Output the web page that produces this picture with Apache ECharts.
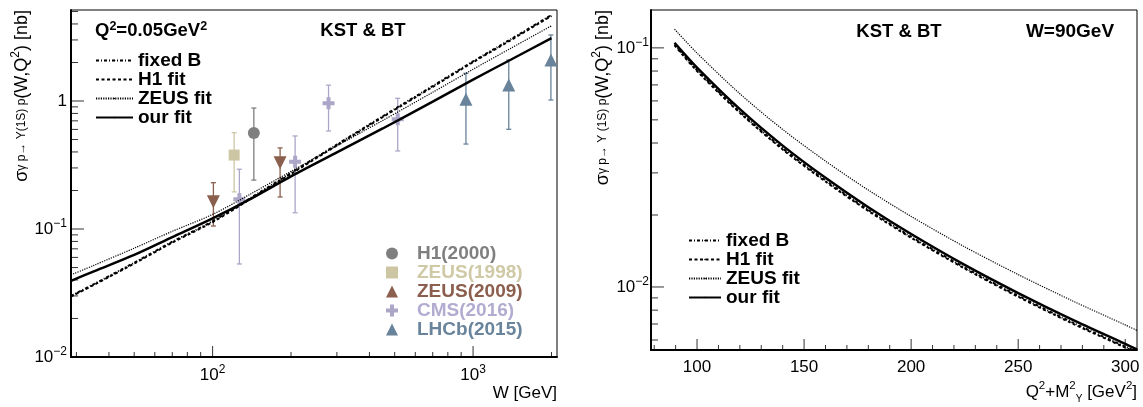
<!DOCTYPE html>
<html><head><meta charset="utf-8">
<script src="https://cdn.jsdelivr.net/npm/echarts@6/dist/echarts.min.js"></script>
<style>html,body{margin:0;padding:0;background:#fff}#c{width:1143px;height:407px}</style>
</head><body><div id="c"></div>
<script>
// ---------- data ----------
// Left panel: W [GeV] vs sigma [nb], Q^2 = 0.05 GeV^2
const leftW        = [28.6, 35, 50, 70, 100, 140, 200, 300, 450, 700, 1000, 1400, 2000];
const leftFixedB   = [0.030, 0.0371, 0.0545, 0.0795, 0.115, 0.175, 0.274, 0.457, 0.76, 1.31, 2.04, 3.05, 4.7];
const leftH1Fit    = [0.0297, 0.0366, 0.0537, 0.0783, 0.1133, 0.172, 0.270, 0.450, 0.749, 1.29, 2.01, 3.0, 4.63];
const leftZeusFit  = [0.0438, 0.052, 0.0708, 0.0959, 0.13, 0.188, 0.282, 0.446, 0.705, 1.17, 1.77, 2.59, 3.87];
const leftOurFit   = [0.0393, 0.0467, 0.0627, 0.0863, 0.121, 0.172, 0.258, 0.397, 0.61, 0.99, 1.47, 2.11, 3.1];

// measurements: [W, sigma, lower end, upper end]
const h1_2000   = [[144, 0.562, 0.241, 0.881]];
const zeus_1998 = [[121, 0.378, 0.195, 0.565]];
const zeus_2009 = [[100.7, 0.163, 0.1055, 0.230], [181.6, 0.33, 0.178, 0.43]];
const cms_2016  = [[126.7, 0.171, 0.0533, 0.293], [207.4, 0.336, 0.134, 0.533], [278.7, 0.959, 0.583, 1.33], [513.7, 0.72, 0.407, 1.05]];
const lhcb_2015 = [[939, 1.03, 0.461, 1.645], [1371, 1.334, 0.601, 2.09], [1990, 2.09, 1.018, 3.28]];

// Right panel: Q^2+M^2 [GeV^2] vs sigma [nb], W = 90 GeV
const rightQ       = [89.5, 100, 120, 140, 160, 180, 200, 225, 250, 275, 300, 305.5];
const rightFixedB  = [0.1035, 0.0808, 0.0540, 0.0380, 0.0279, 0.0210, 0.01623, 0.01206, 0.00919, 0.00713, 0.00563, 0.00534];
const rightH1Fit   = [0.1025, 0.0800, 0.0535, 0.0376, 0.0276, 0.0208, 0.01607, 0.01194, 0.00910, 0.00706, 0.00558, 0.00529];
const rightZeusFit = [0.1197, 0.0951, 0.0643, 0.0456, 0.0336, 0.02543, 0.01973, 0.01472, 0.01127, 0.00878, 0.00694, 0.00658];
const rightOurFit  = [0.105, 0.0827, 0.0554, 0.0390, 0.0286, 0.02155, 0.01665, 0.01237, 0.00943, 0.00732, 0.00578, 0.00548];

// axis ranges and tick values
const leftXRange  = [28.6, 2100];
const leftYRange  = [0.01, 5.14];
const rightXRange = [78.5, 305.5];
const rightYRange = [0.00545, 0.144];
const leftXMajor  = [100, 1000];
const leftXMinor  = [30, 40, 50, 60, 70, 80, 90, 200, 300, 400, 500, 600, 700, 800, 900, 2000];
const leftYMajor  = [0.1, 1];
const leftYMinor  = [0.02, 0.03, 0.04, 0.05, 0.06, 0.07, 0.08, 0.09, 0.2, 0.3, 0.4, 0.5, 0.6, 0.7, 0.8, 0.9, 2, 3, 4, 5];
const rightXMajor = [100, 150, 200, 250, 300];
const rightXMinor = [80, 90, 110, 120, 130, 140, 160, 170, 180, 190, 210, 220, 230, 240, 260, 270, 280, 290];
const rightYMajor = [0.01, 0.1];
const rightYMinor = [0.006, 0.007, 0.008, 0.009, 0.02, 0.03, 0.04, 0.05, 0.06, 0.07, 0.08, 0.09];

// ---------- styling ----------
const F = '"Liberation Sans", Arial, Helvetica, sans-serif';
const COL = {h1: '#7f7f7f', z98: '#cdc6a5', z09: '#8a5f4d', cms: '#aca6c8', lhcb: '#68839a'};
const TXT = {h1: '#7f7f7f', z98: '#cfc9a6', z09: '#8b5e4e', cms: '#b1acd0', lhcb: '#69849b'};

const labelRich = {
  b: {fontFamily: F, fontSize: 17, color: '#000', lineHeight: 22},
  s: {fontFamily: F, fontSize: 12, color: '#000', lineHeight: 12, verticalAlign: 'top'}
};
function powLabel(v) {
  const e = Math.log10(v), r = Math.round(e);
  if (Math.abs(e - r) > 1e-6) return '';
  if (r === 0) return '{b|1}';
  return '{b|10}{s|' + (r < 0 ? '\u2212' + (-r) : r) + '}';
}
function zip(xs, ys) { return xs.map((x, i) => [x, ys[i]]); }

function lineSeries(gi, name, xs, ys, type, width) {
  return {
    type: 'line', name: name, xAxisIndex: gi, yAxisIndex: gi, data: zip(xs, ys),
    symbol: 'none', smooth: 0.3, z: 4, silent: true,
    lineStyle: {color: '#000', width: width, type: type}, itemStyle: {color: '#000'}
  };
}
function tickSeries(gi, vals, axis, fixed, len) {
  return {
    type: 'scatter', xAxisIndex: gi, yAxisIndex: gi, silent: true, clip: false, z: 6,
    symbol: 'rect',
    symbolSize: axis === 'x' ? [1, len] : [len, 1],
    symbolOffset: axis === 'x' ? [0, -len / 2] : [len / 2, 0],
    itemStyle: {color: '#000'},
    data: vals.map(v => axis === 'x' ? [v, fixed] : [fixed, v])
  };
}
function errSeries(gi, pts, color) {
  return {
    type: 'custom', xAxisIndex: gi, yAxisIndex: gi, silent: true, z: 3,
    data: pts, encode: {x: 0, y: [1, 2, 3]},
    renderItem: function (params, api) {
      const x = api.value(0), lo = api.value(2), hi = api.value(3);
      const a = api.coord([x, hi]), b = api.coord([x, lo]);
      const s = {stroke: color, lineWidth: 1.3};
      return {type: 'group', children: [
        {type: 'line', shape: {x1: a[0], y1: a[1], x2: b[0], y2: b[1]}, style: s},
        {type: 'line', shape: {x1: a[0] - 2.5, y1: a[1], x2: a[0] + 2.5, y2: a[1]}, style: s},
        {type: 'line', shape: {x1: b[0] - 2.5, y1: b[1], x2: b[0] + 2.5, y2: b[1]}, style: s}
      ]};
    }
  };
}
function markSeries(name, pts, color, symbol, size, rot) {
  return {
    type: 'scatter', name: name, xAxisIndex: 0, yAxisIndex: 0, z: 3, silent: true,
    symbol: symbol, symbolSize: size, symbolRotate: rot || 0,
    itemStyle: {color: color, opacity: 1},
    data: pts.map(p => [p[0], p[1]])
  };
}
const CROSS = 'path://M4,0H8V4H12V8H8V12H4V8H0V4H4Z';

const axisLineStyle = {show: true, onZero: false, lineStyle: {color: '#000', width: 2}};
const lineLegendText = {fontFamily: F, fontSize: 19, fontWeight: 'bold', color: '#000'};

const option = {
  animation: false,
  backgroundColor: '#fff',
  grid: [
    {left: 71, top: 10, width: 486, height: 347, show: true, borderColor: '#000', borderWidth: 1, backgroundColor: 'transparent'},
    {left: 651, top: 10, width: 486, height: 340, show: true, borderColor: '#000', borderWidth: 1, backgroundColor: 'transparent'}
  ],
  xAxis: [
    {gridIndex: 0, type: 'log', min: leftXRange[0], max: leftXRange[1], axisLine: axisLineStyle,
     axisTick: {show: false}, splitLine: {show: false},
     axisLabel: {margin: 7, formatter: powLabel, rich: labelRich, showMinLabel: false, showMaxLabel: false}},
    {gridIndex: 1, type: 'value', min: rightXRange[0], max: rightXRange[1], axisLine: axisLineStyle,
     axisTick: {show: false}, splitLine: {show: false},
     axisLabel: {margin: 9, fontFamily: F, fontSize: 17, color: '#000',
       formatter: v => (Math.abs(v % 50) < 1e-9 ? String(v) : ''), showMinLabel: false, showMaxLabel: false}}
  ],
  yAxis: [
    {gridIndex: 0, type: 'log', min: leftYRange[0], max: leftYRange[1], axisLine: axisLineStyle,
     axisTick: {show: false}, splitLine: {show: false},
     axisLabel: {margin: 4, formatter: powLabel, rich: labelRich, showMaxLabel: false}},
    {gridIndex: 1, type: 'log', min: rightYRange[0], max: rightYRange[1], axisLine: axisLineStyle,
     axisTick: {show: false}, splitLine: {show: false},
     axisLabel: {margin: 2, formatter: powLabel, rich: labelRich, showMinLabel: false, showMaxLabel: false}}
  ],
  legend: [
    {orient: 'vertical', left: 95, top: 51, padding: 0, itemWidth: 37, itemHeight: 2, itemGap: 0, selectedMode: false,
     data: ['fixed B', 'H1 fit', 'ZEUS fit', 'our fit'],
     textStyle: Object.assign({lineHeight: 18.3}, lineLegendText)},
    {orient: 'vertical', left: 386, top: 244, padding: 0, itemWidth: 12, itemHeight: 12, itemGap: 0, selectedMode: false,
     symbolKeepAspect: true,
     data: [
       {name: 'H1(2000)', textStyle: {color: TXT.h1}},
       {name: 'ZEUS(1998)', textStyle: {color: TXT.z98}},
       {name: 'ZEUS(2009)', textStyle: {color: TXT.z09}},
       {name: 'CMS(2016)', textStyle: {color: TXT.cms}},
       {name: 'LHCb(2015)', textStyle: {color: TXT.lhcb}}
     ],
     textStyle: {fontFamily: F, fontSize: 19, fontWeight: 'bold', lineHeight: 18.1, padding: [0, 0, 0, 14]}},
    {orient: 'vertical', left: 688, top: 231, padding: 0, itemWidth: 32, itemHeight: 2, itemGap: 0, selectedMode: false,
     data: ['fixed B', 'H1 fit', 'ZEUS fit', 'our fit'],
     textStyle: Object.assign({lineHeight: 18.1}, lineLegendText)}
  ],
  series: [
    // left curves
    lineSeries(0, 'ZEUS fit', leftW, leftZeusFit, [1.2, 1.2], 1.2),
    lineSeries(0, 'H1 fit', leftW, leftH1Fit, [3, 2.5], 2),
    lineSeries(0, 'fixed B', leftW, leftFixedB, [3, 2, 1, 2], 2),
    lineSeries(0, 'our fit', leftW, leftOurFit, 'solid', 2.5),
    // measurements
    errSeries(0, h1_2000, COL.h1),
    errSeries(0, zeus_1998, COL.z98),
    errSeries(0, zeus_2009, COL.z09),
    errSeries(0, cms_2016, COL.cms),
    errSeries(0, lhcb_2015, COL.lhcb),
    markSeries('H1(2000)', h1_2000, COL.h1, 'circle', 12),
    markSeries('ZEUS(1998)', zeus_1998, COL.z98, 'rect', 11),
    markSeries('ZEUS(2009)', zeus_2009, COL.z09, 'triangle', 13, 180),
    markSeries('CMS(2016)', cms_2016, COL.cms, CROSS, 12),
    markSeries('LHCb(2015)', lhcb_2015, COL.lhcb, 'triangle', 13),
    // right curves
    lineSeries(1, 'ZEUS fit', rightQ, rightZeusFit, [1.2, 1.2], 1.2),
    lineSeries(1, 'H1 fit', rightQ, rightH1Fit, [3, 2.5], 2),
    lineSeries(1, 'fixed B', rightQ, rightFixedB, [3, 2, 1, 2], 2),
    lineSeries(1, 'our fit', rightQ, rightOurFit, 'solid', 2.5),
    // ticks
    tickSeries(0, leftXMajor, 'x', leftYRange[0], 11),
    tickSeries(0, leftXMinor, 'x', leftYRange[0], 5),
    tickSeries(0, leftYMajor, 'y', leftXRange[0], 13),
    tickSeries(0, leftYMinor, 'y', leftXRange[0], 7),
    tickSeries(1, rightXMajor, 'x', rightYRange[0], 11),
    tickSeries(1, rightXMinor, 'x', rightYRange[0], 5),
    tickSeries(1, rightYMajor, 'y', rightXRange[0], 13),
    tickSeries(1, rightYMinor, 'y', rightXRange[0], 7)
  ],
  graphic: [
    {type: 'text', x: 95, y: 31, z: 10, style: {
      text: '{b|Q}{s|2}{b|=0.05GeV}{s|2}', align: 'left', verticalAlign: 'middle',
      rich: {b: {fontFamily: F, fontSize: 18.5, fontWeight: 'bold', fill: '#000', lineHeight: 22},
             s: {fontFamily: F, fontSize: 12.5, fontWeight: 'bold', fill: '#000', lineHeight: 12, verticalAlign: 'top'}}}},
    {type: 'text', x: 363, y: 31, z: 10, style: {text: 'KST & BT', align: 'center', verticalAlign: 'middle',
      fontFamily: F, fontSize: 18.5, fontWeight: 'bold', fill: '#000'}},
    {type: 'text', x: 899, y: 32, z: 10, style: {text: 'KST & BT', align: 'center', verticalAlign: 'middle',
      fontFamily: F, fontSize: 18.5, fontWeight: 'bold', fill: '#000'}},
    {type: 'text', x: 1070, y: 32, z: 10, style: {text: 'W=90GeV', align: 'center', verticalAlign: 'middle',
      fontFamily: F, fontSize: 19, fontWeight: 'bold', fill: '#000'}},
    // x-axis titles
    {type: 'text', x: 557, y: 393, z: 10, style: {text: 'W [GeV]', align: 'right', verticalAlign: 'middle',
      fontFamily: F, fontSize: 17, fill: '#000'}},
    {type: 'text', x: 1137, y: 392, z: 10, style: {
      text: '{b|Q}{s|2}{b|+M}{s|2}{u|\u03A5}{b| [GeV}{s|2}{b|]}', align: 'right', verticalAlign: 'middle',
      rich: {b: {fontFamily: F, fontSize: 17, fill: '#000', lineHeight: 24},
             s: {fontFamily: F, fontSize: 11.5, fill: '#000', lineHeight: 12, verticalAlign: 'top'},
             u: {fontFamily: F, fontSize: 10, fill: '#000', lineHeight: 10, verticalAlign: 'bottom'}}}},
    // y-axis titles (rotated)
    {type: 'text', x: 22, y: 10, rotation: Math.PI / 2, z: 10, style: {
      text: '{b|\u03C3}{g|\u03B3 p\u2192 \u03A5(1S) p}{b|(W,Q}{s|2}{b|) [nb]}', align: 'right', verticalAlign: 'middle',
      rich: {b: {fontFamily: F, fontSize: 18, fill: '#000', lineHeight: 24},
             g: {fontFamily: F, fontSize: 12, fill: '#000', lineHeight: 12, verticalAlign: 'middle'},
             s: {fontFamily: F, fontSize: 12, fill: '#000', lineHeight: 12, verticalAlign: 'top'}}}},
    {type: 'text', x: 603, y: 10, rotation: Math.PI / 2, z: 10, style: {
      text: '{b|\u03C3}{g|\u03B3 p\u2192 \u03A5 (1S) p}{b|(W,Q}{s|2}{b|) [nb]}', align: 'right', verticalAlign: 'middle',
      rich: {b: {fontFamily: F, fontSize: 18, fill: '#000', lineHeight: 24},
             g: {fontFamily: F, fontSize: 12, fill: '#000', lineHeight: 12, verticalAlign: 'middle'},
             s: {fontFamily: F, fontSize: 12, fill: '#000', lineHeight: 12, verticalAlign: 'top'}}}}
  ]
};

const chart = echarts.init(document.getElementById('c'), null, {renderer: 'canvas'});
chart.setOption(option);
</script>
</body></html>
